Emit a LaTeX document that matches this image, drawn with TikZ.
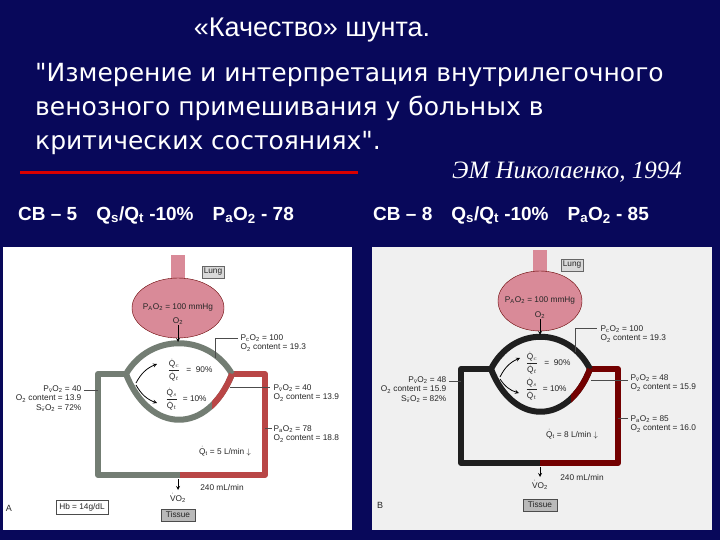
\documentclass[tikz,border=0pt]{standalone}
\usepackage{fontspec}
\setmainfont{Liberation Sans}
\newfontfamily\dvs{DejaVu Sans}
\newfontfamily\tms{Liberation Serif}
\begin{document}
\begin{tikzpicture}[x=1pt,y=-1pt,
  sm/.style={font=\fontsize{8.3}{9.3}\selectfont, inner sep=0.5pt, text=black!85},
  tubeA/.style={line width=6pt, draw=black!60!green!10!gray, line join=round},
  tubeB/.style={line width=6pt, draw=red!45!gray, line join=round},
  lead/.style={draw=black!70, line width=0.5pt},
  hdr/.style={font=\bfseries\fontsize{19}{22}\selectfont, text=white, inner sep=0pt, anchor=west}]
\definecolor{bg}{HTML}{08085A}
\definecolor{lungc}{HTML}{D98A98}
\newcommand{\fr}[2]{$\displaystyle\frac{\dot{\rm Q}_{#1}}{\dot{\rm Q}_{#2}}$}
\fill[bg] (0,0) rectangle (720,540);
\useasboundingbox (0,0) rectangle (720,540);
\node[text=white, font=\fontsize{27}{30}\selectfont] (t) at (312,30) {«Качество» шунта.};
\node[text=white, anchor=north west, align=left, font=\dvs\fontsize{25}{34}\selectfont, inner sep=0pt] (q) at (35,63)
 {"Измерение и интерпретация внутрилегочного\\ венозного примешивания у больных в\\ критических состояниях".};
\node[text=white, font=\tms\itshape\fontsize{25}{28}\selectfont] (au) at (567,172) {ЭМ Николаенко, 1994};
\coordinate (r1) at (20,173); \coordinate (r2) at (358,173);
\draw[red!85!black, line width=3pt] (r1) -- (r2);
\node[hdr] (h1) at (18,215) {СВ – 5\quad Q\textsubscript{s}/Q\textsubscript{t} -10\%\quad P\textsubscript{a}O\textsubscript{2} - 78};
\node[hdr] (h2) at (373,215) {СВ – 8\quad Q\textsubscript{s}/Q\textsubscript{t} -10\%\quad P\textsubscript{a}O\textsubscript{2} - 85};
% panel A
\fill[white] (3,247) rectangle (352,530);
\fill[lungc] (171,255) rectangle (185,285);
\fill[lungc, draw=red!40!black, line width=0.4pt] (178,308) ellipse [x radius=46, y radius=30];
\node[sm, draw=black!60, fill=gray!30, inner sep=2pt] (lungA) at (213,272) {Lung};
\node[sm] (pa) at (178,307) {P\textsubscript{A}O\textsubscript{2} = 100 mmHg};
\node[sm] (o2a) at (178,321) {O\textsubscript{2}};
\coordinate (LA) at (126,374); \coordinate (RA) at (232,374);
\draw[tubeB] (RA) -- (265,374) -- (265,475) -- (180,475);
\draw[tubeA] (180,475) -- (98,475) -- (98,374) -- (LA);
\draw[tubeA] (LA) .. controls +(24,-41) and +(-24,-41) .. (RA);
\draw[tubeA] (LA) .. controls +(24,61) and +(-24,61) .. (RA);
\begin{scope}
\clip (212,360) rectangle (240,430);
\draw[tubeB] (LA) .. controls +(24,61) and +(-24,61) .. (RA);
\end{scope}
\draw[-stealth, thick] (o2a) -- (178,342);
\draw[lead] (215,358) -- (215,338) -- (238,338);
\node[sm, anchor=west, align=left] (pca) at (240,343) {P\textsubscript{c}O\textsubscript{2} = 100\\O\textsubscript{2} content = 19.3};
\node[sm] (fa1) at (190,370) {\fr{c}{t}\;\, = \;90\%};
\node[sm] (fa2) at (186,399) {\fr{s}{t}\; = 10\%};
\draw[-stealth, thick] (136,383) to[bend left=20] (157,364);
\draw[-stealth, thick] (136,385) to[bend right=20] (157,403);
\draw[lead] (230,387) -- (270,387);
\node[sm, anchor=west, align=left] (pva) at (273,393) {P\textsubscript{$\bar{\rm v}$}O\textsubscript{2} = 40\\O\textsubscript{2} content = 13.9};
\draw[lead] (84,390) -- (98,390);
\node[sm, anchor=north east, align=right] (lva) at (82,385) {P\textsubscript{$\bar{\rm v}$}O\textsubscript{2} = 40\\O\textsubscript{2} content = 13.9\\S\textsubscript{$\bar{\rm v}$}O\textsubscript{2} = 72\%};
\draw[lead] (265,428) -- (272,428);
\node[sm, anchor=west, align=left] (paa) at (273,434) {P\textsubscript{a}O\textsubscript{2} = 78\\O\textsubscript{2} content = 18.8};
\node[sm] (qta) at (225,451) {$\dot{\rm Q}$\textsubscript{t} = 5 L/min $\downarrow$};
\draw[-stealth, thick] (178,479) -- (178,490);
\node[sm] (vo2a) at (178,498) {$\dot{\rm V}$O\textsubscript{2}};
\node[sm] (mla) at (222,488) {240 mL/min};
\node[sm, draw=black!70, inner sep=3pt] (hba) at (82,507) {Hb = 14g/dL};
\node[sm, font=\fontsize{9}{10}\selectfont] (la) at (9,508) {A};
\node[sm, draw=black!70, fill=gray!55, inner sep=3pt, minimum width=34pt] (tia) at (178,515) {Tissue};
% panel B
\begin{scope}[tubeA/.style={line width=6pt, draw=black!88, line join=round},
  tubeB/.style={line width=6pt, draw=red!45!black, line join=round}]
\fill[gray!12] (372,247) rectangle (712,530);
\fill[lungc] (533,250) rectangle (547,278);
\fill[lungc, draw=red!40!black, line width=0.4pt] (540,301) ellipse [x radius=42, y radius=30];
\node[sm, draw=black!60, fill=gray!30, inner sep=2pt] (lungB) at (572,265) {Lung};
\node[sm] (pb) at (540,300) {P\textsubscript{A}O\textsubscript{2} = 100 mmHg};
\node[sm] (o2b) at (540,315) {O\textsubscript{2}};
\coordinate (LB) at (491,369); \coordinate (RB) at (590,369);
\draw[tubeB] (RB) -- (618,369) -- (618,463) -- (540,463);
\draw[tubeA] (540,463) -- (461,463) -- (461,369) -- (LB);
\draw[tubeA] (LB) .. controls +(22,-43) and +(-22,-43) .. (RB);
\draw[tubeA] (LB) .. controls +(22,57) and +(-22,57) .. (RB);
\begin{scope}
\clip (571,355) rectangle (598,420);
\draw[tubeB] (LB) .. controls +(22,57) and +(-22,57) .. (RB);
\end{scope}
\draw[-stealth, thick] (o2b) -- (540,335);
\draw[lead] (575,352) -- (575,328) -- (597,328);
\node[sm, anchor=west, align=left] (pcb) at (600,334) {P\textsubscript{c}O\textsubscript{2} = 100\\O\textsubscript{2} content = 19.3};
\node[sm] (fb1) at (548,363) {\fr{c}{t}\;\, = \;90\%};
\node[sm] (fb2) at (546,389) {\fr{s}{t}\; = 10\%};
\draw[-stealth, thick] (500,377) to[bend left=20] (520,358);
\draw[-stealth, thick] (500,379) to[bend right=20] (519,393);
\draw[lead] (591,380) -- (628,380);
\node[sm, anchor=west, align=left] (pvb) at (630,383) {P\textsubscript{$\bar{\rm v}$}O\textsubscript{2} = 48\\O\textsubscript{2} content = 15.9};
\draw[lead] (449,381) -- (461,381);
\node[sm, anchor=north east, align=right] (lvb) at (447,376) {P\textsubscript{$\bar{\rm v}$}O\textsubscript{2} = 48\\O\textsubscript{2} content = 15.9\\S\textsubscript{$\bar{\rm v}$}O\textsubscript{2} = 82\%};
\draw[lead] (618,418) -- (628,418);
\node[sm, anchor=west, align=left] (pab) at (630,424) {P\textsubscript{a}O\textsubscript{2} = 85\\O\textsubscript{2} content = 16.0};
\node[sm] (qtb) at (572,434) {$\dot{\rm Q}$\textsubscript{t} = 8 L/min $\downarrow$};
\draw[-stealth, thick] (540,467) -- (540,477);
\node[sm] (vo2b) at (540,485) {$\dot{\rm V}$O\textsubscript{2}};
\node[sm] (mlb) at (582,478) {240 mL/min};
\node[sm, font=\fontsize{9}{10}\selectfont] (lb) at (380,505) {B};
\node[sm, draw=black!70, fill=gray!55, inner sep=3pt, minimum width=34pt] (tib) at (540,505) {Tissue};
\end{scope}
\end{tikzpicture}
\end{document}
